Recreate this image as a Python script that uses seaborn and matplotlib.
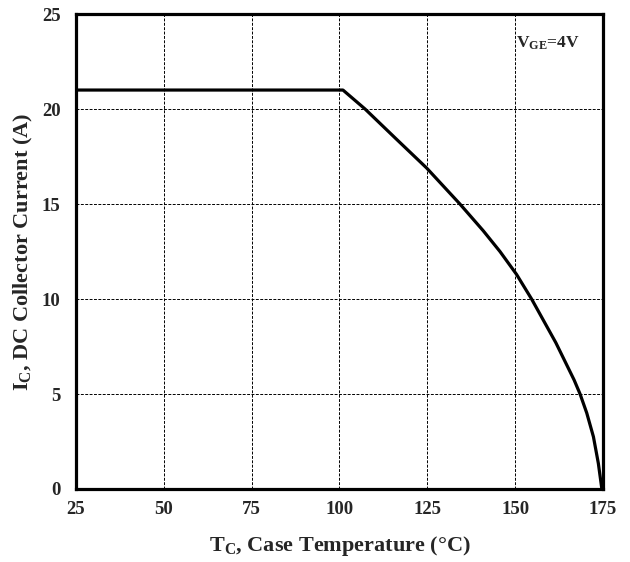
import matplotlib
matplotlib.use("Agg")
import matplotlib.pyplot as plt
import seaborn as sns
import pandas as pd

temperature = [25, 101, 107.3, 116.3, 124.8, 134.3, 140.9, 145.7, 150.4, 154.7,
               161.6, 166.8, 168.5, 170.4, 172.3, 173.7, 174.7]
current = [21, 21, 20, 18.4, 16.9, 15, 13.6, 12.5, 11.3, 10,
           7.7, 5.74, 5, 4.0, 2.75, 1.35, 0]
x_ticks = [25, 50, 75, 100, 125, 150, 175]
y_ticks = [0, 5, 10, 15, 20, 25]

sns.set_style("white")
plt.rcParams['font.family'] = ['Liberation Serif', 'DejaVu Serif']
plt.rcParams['font.weight'] = 'bold'
plt.rcParams['mathtext.fontset'] = 'custom'
plt.rcParams['mathtext.rm'] = 'Liberation Serif:bold'
plt.rcParams['mathtext.it'] = 'Liberation Serif:bold'
plt.rcParams['mathtext.bf'] = 'Liberation Serif:bold'

df = pd.DataFrame({"T": temperature, "I": current})

fig = plt.figure(figsize=(6.3, 5.62), dpi=100)
ax = fig.add_axes([0.1206, 0.1299, 0.957 - 0.1206, 0.975 - 0.1299])
sns.lineplot(data=df, x="T", y="I", ax=ax, color="black", linewidth=2.3)

ax.set_xlim(25, 175)
ax.set_ylim(0, 25)
ax.set_xticks(x_ticks)
ax.set_yticks(y_ticks)
ax.grid(True, color="black", linestyle=(0, (3, 1.5)), linewidth=0.7)
ax.tick_params(length=0, labelsize=13.5)
ax.tick_params(axis='x', pad=9)
ax.tick_params(axis='y', pad=11)
for lab in ax.get_xticklabels() + ax.get_yticklabels():
    lab.set_fontweight('bold')
for s in ax.spines.values():
    s.set_linewidth(2.3)
    s.set_color("black")

ax.set_xlabel(r"T$_\mathregular{C}$, Case Temperature (°C)", fontsize=16, fontweight='bold', labelpad=11)
ax.set_ylabel(r"I$_\mathregular{C}$, DC Collector Current (A)", fontsize=16, fontweight='bold', labelpad=5)
ax.text(159.4, 23.45, r"V$_\mathregular{GE}$=4V", fontsize=12.5, fontweight='bold', ha='center', va='center')

fig.savefig("out.png", dpi=100)
